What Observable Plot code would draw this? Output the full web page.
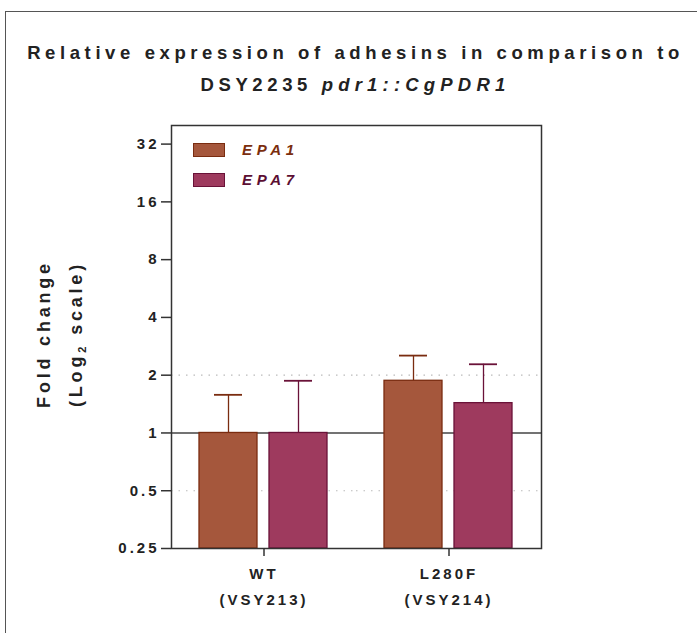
<!DOCTYPE html>
<html>
<head>
<meta charset="utf-8">
<script src="https://cdn.jsdelivr.net/npm/d3@7"></script>
<script src="https://cdn.jsdelivr.net/npm/@observablehq/plot@0.6"></script>
<style>
  html, body { margin: 0; padding: 0; background: #fff; }
  body { width: 697px; height: 633px; position: relative; overflow: hidden; font-family: "Liberation Sans", Arial, sans-serif; }
  #frame { position: absolute; left: 5px; top: 11px; width: 800px; height: 800px; border: 1.5px solid #555; box-sizing: border-box; }
  #title { position: absolute; left: 7px; top: 36.5px; width: 697px; text-align: center; font-size: 18.5px; font-weight: bold; line-height: 32px; letter-spacing: 4.6px; color: #222; }
  #title i { letter-spacing: 5.2px; }
  #ylabel { position: absolute; left: 63px; top: 334px; transform: translate(-50%, -50%) rotate(-90deg); white-space: nowrap; text-align: center; font-size: 18px; font-weight: bold; line-height: 32px; letter-spacing: 3.8px; color: #222; }
  #ylabel sub { font-size: 11px; vertical-align: -4px; letter-spacing: 3px; }
  #chart { position: absolute; left: 0; top: 110px; }
  #legend { position: absolute; left: 193px; top: 143px; }
  .item { position: relative; height: 30px; }
  .sw { position: absolute; left: 0; top: 0; width: 32px; height: 14px; box-sizing: border-box; border: 1.5px solid; }
  .lab { position: absolute; left: 49px; top: -2px; font-size: 15px; font-weight: bold; font-style: italic; letter-spacing: 4.7px; line-height: 18px; }
</style>
</head>
<body>
<div id="frame"></div>
<div id="title">Relative expression of adhesins in comparison to<br>DSY2235 <i>pdr1::CgPDR1</i></div>
<div id="ylabel">Fold change<br>(Log<sub>2</sub> scale)</div>
<div id="chart"></div>
<div id="legend"></div>
<script>
// ---- data ----
const groups = ["WT", "L280F"];
const groupLabels = ["WT\n(VSY213)", "L280F\n(VSY214)"];
const series = ["EPA1", "EPA7"];
const epa1Values = [1, 1.87];
const epa7Values = [1, 1.43];
const epa1Upper = [1.58, 2.53];
const epa7Upper = [1.87, 2.28];
const yTicks = [0.25, 0.5, 1, 2, 4, 8, 16, 32];
const yDomain = [0.25, 40];
const fills = ["#a5573c", "#9e3a5e"];
const strokes = ["#7a2c10", "#6a1238"];
const textColors = ["#7b2e0e", "#5c0f33"];

const values = [epa1Values, epa7Values];
const uppers = [epa1Upper, epa7Upper];
const rows = [];
series.forEach((s, i) => groups.forEach((g, j) => rows.push({group: g, series: s, value: values[i][j], upper: uppers[i][j]})));

const marks = [
  Plot.ruleY([0.5, 2], {stroke: "#bbb", strokeWidth: 1.2, strokeDasharray: "1.5,6"}),
  Plot.ruleY([1], {stroke: "#444", strokeWidth: 1.5})
];
series.forEach((s, i) => {
  const d = rows.filter(r => r.series === s);
  marks.push(
    Plot.ruleX(d, {fx: "group", x: "series", y1: "value", y2: "upper", stroke: strokes[i], strokeWidth: 1.3}),
    Plot.tickY(d, {fx: "group", x: "series", y: "upper", stroke: strokes[i], strokeWidth: 1.8, insetLeft: 15, insetRight: 15}),
    Plot.barY(d, {fx: "group", x: "series", y1: yDomain[0], y2: "value", fill: fills[i], stroke: strokes[i], strokeWidth: 1.3})
  );
});
marks.push(
  Plot.frame({facet: "super", stroke: "#333", strokeWidth: 1.5}),
  Plot.axisY({ticks: yTicks, tickFormat: d => String(d), tickSize: 10, tickPadding: 2, stroke: "#333", strokeWidth: 1.5, fontSize: 15, label: null}),
  Plot.axisFx({anchor: "bottom", tickSize: 8, tickPadding: 4, tickFormat: g => groupLabels[groups.indexOf(g)], fontSize: 15, lineHeight: 1.73, letterSpacing: "3.8px", label: null, stroke: "#333", strokeWidth: 1.5})
);

const chart = Plot.plot({
  width: 697,
  height: 523,
  marginLeft: 170,
  marginRight: 156,
  marginTop: 15,
  marginBottom: 85,
  style: {fontFamily: "'Liberation Sans', Arial, sans-serif", fontWeight: "bold", fontSize: "15px", letterSpacing: "3px", color: "#222", background: "transparent"},
  fx: {domain: groups, padding: 0},
  x: {domain: series, paddingInner: 0.169, paddingOuter: 0.394, axis: null},
  y: {type: "log", base: 2, domain: yDomain},
  marks
});
document.getElementById("chart").appendChild(chart);

// legend
const leg = document.getElementById("legend");
series.forEach((s, i) => {
  const it = document.createElement("div");
  it.className = "item";
  const sw = document.createElement("div");
  sw.className = "sw";
  sw.style.background = fills[i];
  sw.style.borderColor = strokes[i];
  const lab = document.createElement("div");
  lab.className = "lab";
  lab.style.color = textColors[i];
  lab.textContent = s;
  it.appendChild(sw); it.appendChild(lab);
  leg.appendChild(it);
});
</script>
</body>
</html>
